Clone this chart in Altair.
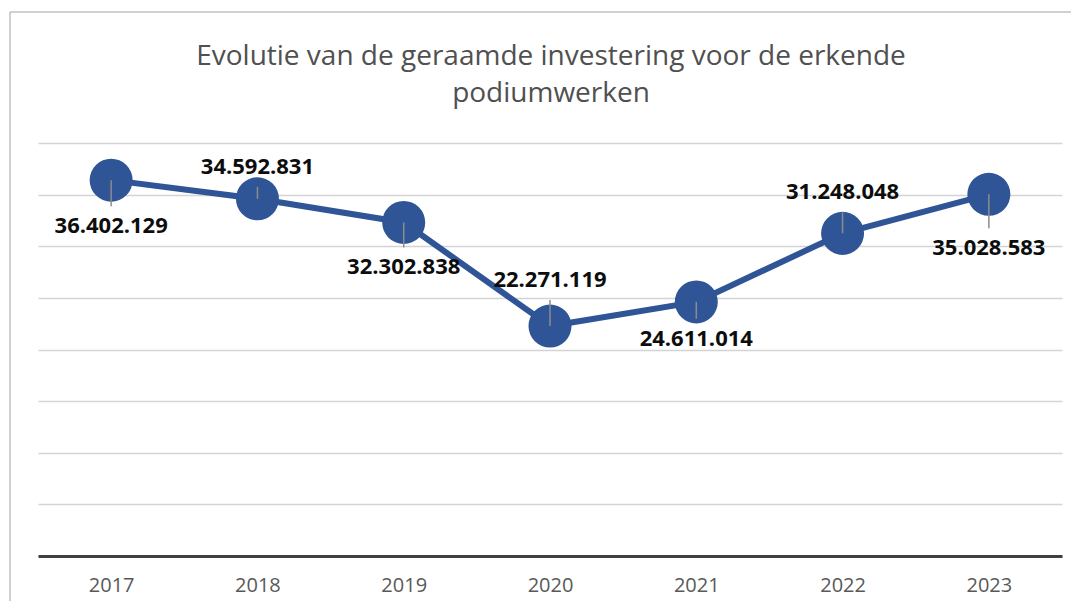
import altair as alt
import pandas as pd

# ---- data ----
years = ["2017", "2018", "2019", "2020", "2021", "2022", "2023"]
investment = [36402129, 34592831, 32302838, 22271119, 24611014, 31248048, 35028583]
y_ticks = [0, 5000000, 10000000, 15000000, 20000000, 25000000, 30000000, 35000000, 40000000]
title_lines = ["Evolutie van de geraamde investering voor de erkende", "podiumwerken"]

# label placement (pixels, + = below the marker)
label_dy = [46, -32, 45, -46, 37, -41, 54]

W, H = 1024, 413
YMAX = 40000000
PX = YMAX / H  # data units per pixel

df = pd.DataFrame({"year": years, "value": investment})
df["label"] = [f"{v:,}".replace(",", ".") for v in investment]

BLUE = "#2F5597"

x = alt.X(
    "year:O",
    sort=years,
    scale=alt.Scale(type="point", padding=0.5),
    axis=alt.Axis(
        title=None, labelAngle=0, ticks=False, grid=False,
        domainColor="#404040", domainWidth=3,
        labelColor="#595959", labelFontSize=20, labelFont="Open Sans",
        labelPadding=19,
    ),
)
y = alt.Y(
    "value:Q",
    scale=alt.Scale(domain=[0, YMAX], nice=False),
    axis=alt.Axis(
        title=None, labels=False, ticks=False, domain=False,
        values=y_ticks, gridColor="#D4D4D4", gridWidth=1.6,
    ),
)

base = alt.Chart(df)
line = base.mark_line(color=BLUE, strokeWidth=6).encode(x=x, y=y)
pts = base.mark_circle(color=BLUE, size=1850, opacity=1).encode(x=x, y=y)

layers = [line, pts]
for yr, d in zip(years, label_dy):
    sgn = 1 if d > 0 else -1
    lead = (abs(d) - 20) * sgn
    sub = base.transform_filter(alt.datum.year == yr)
    leader = sub.transform_calculate(
        y2=f"datum.value - {lead * PX}"
    ).mark_rule(color="#8C8C8C", strokeWidth=1.5).encode(x=x, y=y, y2="y2:Q")
    txt = sub.mark_text(
        dy=d, fontSize=22, fontWeight="bold", font="Open Sans", color="#0D0D0D",
        baseline="middle",
    ).encode(x=x, y=y, text="label:N")
    layers += [leader, txt]

one = pd.DataFrame({"a": [0]})
frame_left = alt.Chart(one).mark_rule(color="#C0C0C0", strokeWidth=1.5).encode(
    x=alt.value(-28), y=alt.value(-131), y2=alt.value(600)
)
frame_top = alt.Chart(one).mark_rule(color="#C0C0C0", strokeWidth=1.5).encode(
    x=alt.value(-28), x2=alt.value(1200), y=alt.value(-131)
)

tdf = pd.DataFrame({"t": title_lines})
title1 = alt.Chart(tdf).transform_filter(alt.datum.t == title_lines[0]).mark_text(
    font="Open Sans", fontSize=28, color="#505050", align="center", baseline="alphabetic"
).encode(text="t:N", x=alt.value(513), y=alt.value(-78))
title2 = alt.Chart(tdf).transform_filter(alt.datum.t == title_lines[1]).mark_text(
    font="Open Sans", fontSize=28, color="#505050", align="center", baseline="alphabetic"
).encode(text="t:N", x=alt.value(513), y=alt.value(-41))

chart = alt.layer(frame_left, frame_top, title1, title2, *layers).properties(
    width=W, height=H,
    autosize=alt.AutoSizeParams(type="none"),
    padding={"left": 30, "top": 135, "right": 9, "bottom": 45},
    background="white",
).configure_view(stroke=None)

chart.save("out.html", embed_options={"renderer": "svg", "actions": False})
